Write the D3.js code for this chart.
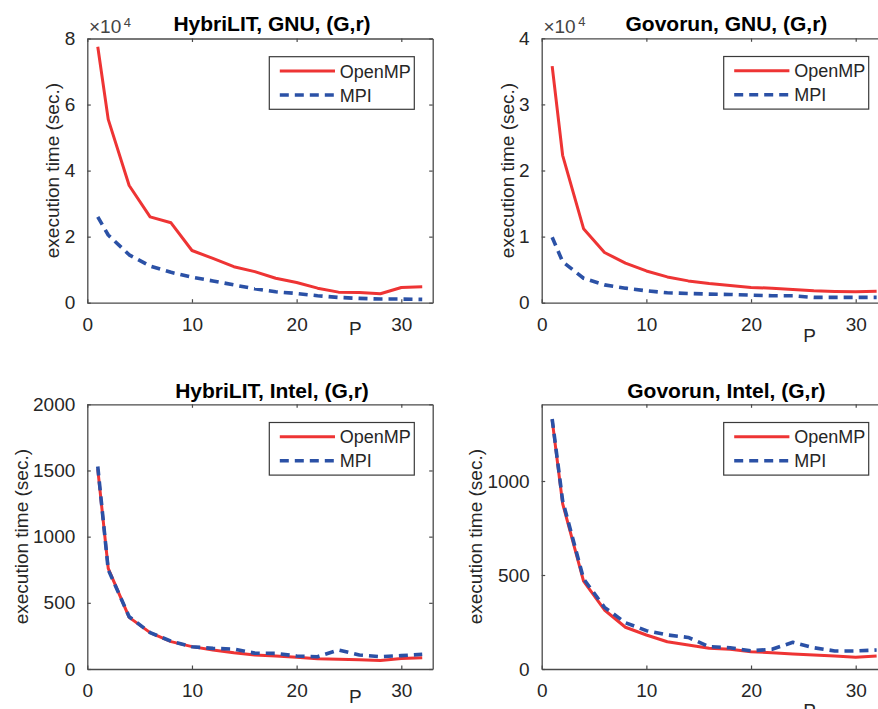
<!DOCTYPE html>
<html>
<head>
<meta charset="utf-8">
<script src="https://cdn.jsdelivr.net/npm/d3@7"></script>
<style>
  body { margin: 0; background: #fff; }
  svg { display: block; font-family: "Liberation Sans", Arial, Helvetica, sans-serif; }
</style>
</head>
<body>
<div id="chart"></div>
<script>
// --------- DATA ---------
const P = [1, 2, 4, 6, 8, 10, 12, 14, 16, 18, 20, 22, 24, 26, 28, 30, 32];

const hybGnuOpenMP = [77500, 55500, 35500, 26000, 24200, 15800, 13400, 10900, 9400, 7400, 6100, 4400, 3200, 3100, 2700, 4600, 4800];
const hybGnuMPI    = [26000, 20500, 14500, 11100, 9200, 7700, 6600, 5400, 4200, 3300, 2800, 2100, 1600, 1300, 1100, 1100, 1000];

const govGnuOpenMP = [35800, 22300, 11200, 7600, 6000, 4800, 3900, 3300, 2900, 2600, 2300, 2200, 2000, 1800, 1700, 1650, 1750];
const govGnuMPI    = [9900, 6200, 3700, 2700, 2200, 1800, 1500, 1400, 1300, 1250, 1150, 1050, 1050, 800, 800, 800, 800];

const hybIntelOpenMP = [1510, 760, 390, 275, 207, 169, 144, 123, 106, 98, 88, 78, 73, 70, 64, 80, 85];
const hybIntelMPI    = [1530, 750, 395, 275, 210, 168, 156, 150, 120, 118, 98, 93, 143, 106, 93, 101, 111];

const govIntelOpenMP = [1325, 880, 468, 314, 222, 181, 145, 128, 110, 105, 92, 87, 80, 74, 69, 62, 69];
const govIntelMPI    = [1330, 895, 480, 328, 246, 204, 181, 168, 119, 113, 97, 105, 142, 113, 96, 96, 101];

const titles = ["HybriLIT, GNU, (G,r)", "Govorun, GNU, (G,r)", "HybriLIT, Intel, (G,r)", "Govorun, Intel, (G,r)"];
const xTicks = [0, 10, 20, 30];
const yTicksGnuHyb = [0, 20000, 40000, 60000, 80000];
const yTicksGnuGov = [0, 10000, 20000, 30000, 40000];
const yTicksIntelHyb = [0, 500, 1000, 1500, 2000];
const yTicksIntelGov = [0, 500, 1000];
const legendNames = ["OpenMP", "MPI"];

// --------- LAYOUT ---------
const W = 878, H = 709;
const RED = "#ee3434", BLUE = "#2b51a6", AXIS = "#4a4a4a", TEXT = "#262626";

const panels = [
    {left: 87.3, top: 38.5, w: 345.4, h: 264.2, ymax: 80000, yTicks: yTicksGnuHyb, exp: true,
     openmp: hybGnuOpenMP, mpi: hybGnuMPI, title: titles[0], titleY: 30.7, pY: 335},
    {left: 541.7, top: 38.3, w: 345.4, h: 264.4, ymax: 40000, yTicks: yTicksGnuGov, exp: true,
     openmp: govGnuOpenMP, mpi: govGnuMPI, title: titles[1], titleY: 30.7, pY: 341.5},
    {left: 87.3, top: 404.3, w: 345.4, h: 264.7, ymax: 2000, yTicks: yTicksIntelHyb, exp: false,
     openmp: hybIntelOpenMP, mpi: hybIntelMPI, title: titles[2], titleY: 398, pY: 703.3},
    {left: 541.7, top: 404.3, w: 345.4, h: 264.7, ymax: 1408, yTicks: yTicksIntelGov, exp: false,
     openmp: govIntelOpenMP, mpi: govIntelMPI, title: titles[3], titleY: 397.5, pY: 716.5}
];

let svg = d3.select("#chart")
    .append("svg")
    .attr("width", W)
    .attr("height", H);

panels.forEach(p => drawPanel(p));

function drawPanel(p) {
    let g = svg.append("g")
        .attr("transform", "translate(" + p.left + "," + p.top + ")");

    let x = d3.scaleLinear().domain([0, 33]).range([0, p.w]);
    let y = d3.scaleLinear().domain([0, p.ymax]).range([p.h, 0]);
    let scaleDiv = p.exp ? 10000 : 1;

    // axes: ticks pointing inward, box on
    let xBottom = d3.axisBottom(x).tickValues(xTicks).tickSizeInner(-3.5).tickSizeOuter(0).tickPadding(15);
    let xTop = d3.axisTop(x).tickValues(xTicks).tickSizeInner(-3.5).tickSizeOuter(0).tickFormat("");
    let yLeft = d3.axisLeft(y).tickValues(p.yTicks).tickSizeInner(-3.5).tickSizeOuter(0).tickPadding(12)
        .tickFormat(d => d / scaleDiv);
    let yRight = d3.axisRight(y).tickValues(p.yTicks).tickSizeInner(-3.5).tickSizeOuter(0).tickFormat("");

    g.append("g").attr("transform", "translate(0," + p.h + ")").call(xBottom);
    g.append("g").call(xTop);
    let yAxisG = g.append("g").call(yLeft);
    g.append("g").attr("transform", "translate(" + p.w + ",0)").call(yRight);

    g.selectAll(".domain").attr("stroke", AXIS).attr("stroke-width", 1.3);
    g.selectAll(".tick line").attr("stroke", AXIS).attr("stroke-width", 1.2);
    g.selectAll(".tick text")
        .attr("fill", TEXT)
        .attr("font-size", 19)
        .attr("font-family", "Liberation Sans, Arial, sans-serif");

    // series lines
    let line = d3.line()
        .x((d, i) => x(P[i]))
        .y(d => y(d));

    g.append("path")
        .attr("fill", "none")
        .attr("stroke", RED)
        .attr("stroke-width", 3)
        .attr("stroke-linejoin", "round")
        .attr("d", line(p.openmp));

    g.append("path")
        .attr("fill", "none")
        .attr("stroke", BLUE)
        .attr("stroke-width", 3.6)
        .attr("stroke-dasharray", "9,6")
        .attr("stroke-linejoin", "round")
        .attr("d", line(p.mpi));

    // exponent label
    if (p.exp) {
        g.append("text")
            .attr("x", 1.7).attr("y", -5.2)
            .attr("fill", "#444").attr("font-size", 19)
            .text("\u00d710");
        g.append("text")
            .attr("x", 36.5).attr("y", -12)
            .attr("fill", "#444").attr("font-size", 13)
            .text("4");
    }

    // y label: sits left of widest y tick label
    let tickW = d3.max(yAxisG.selectAll(".tick text").nodes(), n => n.getComputedTextLength());
    g.append("text")
        .attr("transform", "translate(" + (-(12 + tickW + 5.5)) + "," + (p.h / 2) + ") rotate(-90)")
        .attr("text-anchor", "middle")
        .attr("fill", TEXT)
        .attr("font-size", 19)
        .text("execution time (sec.)");

    // x label
    svg.append("text")
        .attr("x", p.left + 268).attr("y", p.pY)
        .attr("text-anchor", "middle")
        .attr("fill", TEXT)
        .attr("font-size", 19)
        .text("P");

    // title
    svg.append("text")
        .attr("x", p.left + p.w / 2 + 12).attr("y", p.titleY)
        .attr("text-anchor", "middle")
        .attr("fill", "#000")
        .attr("font-size", 21)
        .attr("font-weight", "bold")
        .text(p.title);

    // legend
    let lg = g.append("g").attr("transform", "translate(182,18.2)");
    lg.append("rect")
        .attr("width", 145).attr("height", 52.6)
        .attr("fill", "#fff")
        .attr("stroke", "#3a3a3a").attr("stroke-width", 1.2);
    legendNames.forEach((name, i) => {
        let ly = 14.3 + i * 24;
        lg.append("line")
            .attr("x1", 10.5).attr("x2", 65.7)
            .attr("y1", ly).attr("y2", ly)
            .attr("stroke", i == 0 ? RED : BLUE)
            .attr("stroke-width", i == 0 ? 3 : 3.6)
            .attr("stroke-dasharray", i == 0 ? null : "9,6");
        lg.append("text")
            .attr("x", 70.5).attr("y", ly + 6.6)
            .attr("fill", TEXT)
            .attr("font-size", 18)
            .text(name);
    });
}
</script>
</body>
</html>
